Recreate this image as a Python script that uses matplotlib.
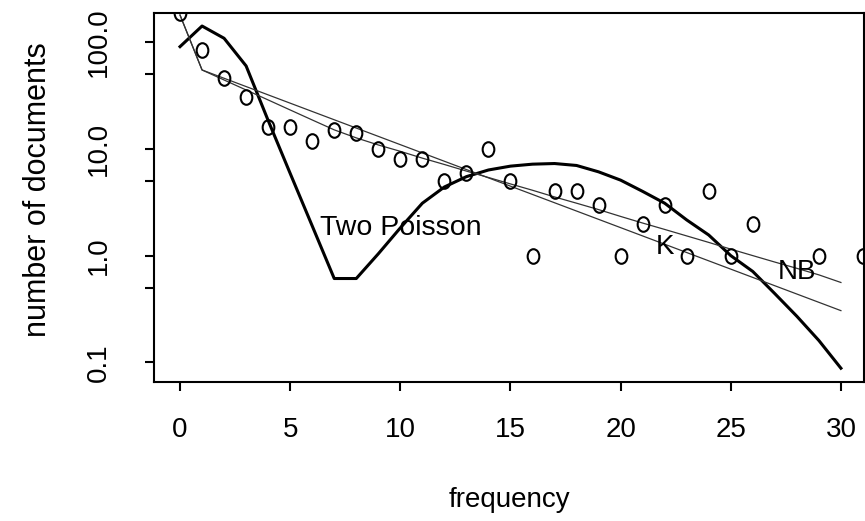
import matplotlib
matplotlib.use('Agg')
import matplotlib.pyplot as plt
from matplotlib.path import Path
from matplotlib.transforms import Affine2D

plt.rcParams['font.family'] = ['Liberation Sans', 'DejaVu Sans']

# observed number of documents per frequency (zero counts are not shown on the log axis)
freq = [0, 1, 2, 3, 4, 5, 6, 7, 8, 9, 10, 11, 12, 13, 14, 15, 16, 17, 18, 19,
        20, 21, 22, 23, 24, 25, 26, 29, 31]
docs = [190, 85, 46, 31, 16, 16, 12, 15, 14, 10, 8, 8, 5, 6, 10, 5, 1, 4, 4, 3,
        1, 2, 3, 1, 4, 1, 2, 1, 1]

# fitted curves, read at each frequency 0..30
fit_x = list(range(31))
two_poisson = [91, 142, 109, 60, 18.5, 5.9, 1.9, 0.61, 0.61, 1.04, 1.82, 3.1, 4.4,
               5.5, 6.35, 6.9, 7.2, 7.3, 7.0, 6.1, 5.1, 4.0, 3.1, 2.16, 1.56, 1.0,
               0.71, 0.44, 0.27, 0.16, 0.088]
nb_fit = [180, 55, 44.3, 35.7, 28.8, 23.2, 18.7, 15.1, 12.7, 10.9, 9.5, 8.2, 7.15,
          6.2, 5.4, 4.7, 4.1, 3.55, 3.1, 2.7, 2.33, 2.02, 1.76, 1.53, 1.33, 1.15,
          1.0, 0.87, 0.76, 0.66, 0.56]
# K mixture is a straight line on the log axis from frequency 1 on
k_x = [0, 1, 30]
k_fit = [180, 55, 0.305]

ytick_vals = [0.1, 0.5, 1, 5, 10, 50, 100]
ytick_labels = ['0.1', '', '1.0', '', '10.0', '', '100.0']
xtick_vals = [0, 5, 10, 15, 20, 25, 30]

fig = plt.figure(figsize=(8.65, 5.21), dpi=100)
ax = fig.add_axes([0.1784, 0.2674, 0.8205, 0.7083])

# open "o" shaped marker, a bit taller than wide
o_marker = Path.unit_circle().transformed(Affine2D().scale(0.8, 1.0))

ax.plot(fit_x, two_poisson, color='black', lw=2.2)
ax.plot(fit_x, nb_fit, color='#333333', lw=0.9)
ax.plot(k_x, k_fit, color='#333333', lw=0.9)
ax.plot(freq, docs, linestyle='none', marker=o_marker, markersize=10.5,
        markerfacecolor='none', markeredgecolor='black', markeredgewidth=1.5)

ax.text(10, 1.8, 'Two Poisson', ha='center', va='center', fontsize=20.5)
ax.text(22, 1.2, 'K', ha='center', va='center', fontsize=20)
ax.text(28, 0.7, 'NB', ha='center', va='center', fontsize=20)

ax.set_yscale('log')
ax.set_xlim(-1.167, 31.05)
ax.set_ylim(0.0658, 189.5)
ax.set_yticks(ytick_vals)
ax.set_yticklabels(ytick_labels, rotation=90, va='center', fontsize=20)
ax.yaxis.set_minor_locator(matplotlib.ticker.NullLocator())
ax.set_xticks(xtick_vals)
ax.set_xticklabels([str(v) for v in xtick_vals], fontsize=20)

ax.tick_params(axis='both', direction='out', length=6.5, width=1.5, color='black')
ax.tick_params(axis='y', pad=24)
ax.tick_params(axis='x', pad=19)
for s in ax.spines.values():
    s.set_linewidth(1.5)

ax.set_xlabel('frequency', fontsize=20, va='center')
ax.xaxis.set_label_coords(0.5, -0.3206)
ax.set_ylabel('number of documents', fontsize=22, va='center')
ax.yaxis.set_label_coords(-0.164, 0.52)

fig.savefig('out.png', dpi=100)
